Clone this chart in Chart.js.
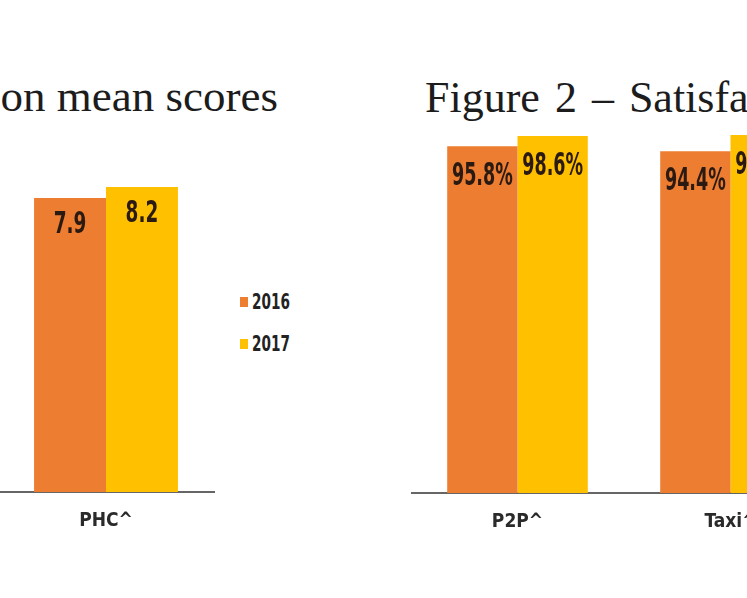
<!DOCTYPE html>
<html>
<head>
<meta charset="utf-8">
<script src="https://cdn.jsdelivr.net/npm/chart.js@4.4.1/dist/chart.umd.min.js"></script>
<style>
  html, body { margin: 0; padding: 0; background: #ffffff; width: 747px; height: 598px; overflow: hidden; position: relative; }
  canvas { position: absolute; }
  .title { position: absolute; font-family: "Liberation Serif", "Times New Roman", serif; line-height: 45px; color: #1c1c1c; white-space: nowrap; }
  .legend { position: absolute; font-family: "Liberation Sans Narrow", "Arial Narrow", "DejaVu Sans Condensed", sans-serif; font-weight: bold; font-size: 21px; color: #222; }
  .legend .item { position: absolute; left: 0; height: 24px; display: flex; align-items: center; white-space: nowrap; }
  .legend .sw { width: 8px; height: 10px; margin-right: 4px; }
  .legend .tx { display: inline-block; transform: scaleX(0.72); transform-origin: left center; }
</style>
</head>
<body>
<div class="title" id="t1" style="top:74px; right:469px; font-size:45px;"></div>
<div class="title" id="t2" style="top:75px; left:425px; font-size:44px; word-spacing:4px;"></div>
<canvas id="c1"></canvas>
<canvas id="c2"></canvas>
<div class="legend" id="legend" style="left:240px; top:0px;"></div>
<script>
// ---- data ----
const seriesNames = ['2016', '2017'];
const seriesColors = ['#ED7D31', '#FFC000'];
const fig1Title = 'Figure 1 \u2013 Satisfaction mean scores';
const fig1Categories = ['PHC^'];
const fig1Values2016 = [7.9];
const fig1Values2017 = [8.2];
const fig2Title = 'Figure 2 \u2013 Satisfaction rates';
const fig2Categories = ['P2P^', 'Taxi^'];
const fig2Values2016 = [95.8, 94.4];
const fig2Values2017 = [98.6, 98.9];

const NARROW = '"Liberation Sans Narrow", "Arial Narrow", "DejaVu Sans Condensed", sans-serif';

document.getElementById('t1').textContent = fig1Title;
document.getElementById('t2').textContent = fig2Title;

// legend
const legendEl = document.getElementById('legend');
const legendCenters = [302, 344];
seriesNames.forEach((n, i) => {
  const it = document.createElement('div');
  it.className = 'item';
  it.style.top = (legendCenters[i] - 12) + 'px';
  const sw = document.createElement('span');
  sw.className = 'sw';
  sw.style.background = seriesColors[i];
  const tx = document.createElement('span');
  tx.className = 'tx';
  tx.textContent = n;
  it.appendChild(sw); it.appendChild(tx);
  legendEl.appendChild(it);
});

const valueLabels = {
  id: 'valueLabels',
  afterDatasetsDraw(chart, args, opts) {
    const ctx = chart.ctx;
    chart.data.datasets.forEach((ds, i) => {
      const meta = chart.getDatasetMeta(i);
      meta.data.forEach((bar, j) => {
        const txt = ds.data[j].toFixed(1) + (opts.suffix || '');
        ctx.save();
        ctx.translate(bar.x, bar.y + opts.offset);
        ctx.scale(opts.scaleX, opts.scaleY);
        ctx.font = 'bold ' + opts.size + 'px ' + NARROW;
        ctx.fillStyle = opts.color;
        ctx.textAlign = 'center';
        ctx.textBaseline = 'middle';
        ctx.fillText(txt, 0, 0);
        ctx.restore();
      });
    });
  }
};

function makeChart(id, left, top, width, height, cats, v16, v17, ymax, labelOpts) {
  const cv = document.getElementById(id);
  cv.width = width; cv.height = height;
  cv.style.left = left + 'px'; cv.style.top = top + 'px';
  cv.style.width = width + 'px'; cv.style.height = height + 'px';
  return new Chart(cv, {
    type: 'bar',
    data: {
      labels: cats,
      datasets: [
        { label: seriesNames[0], data: v16, backgroundColor: seriesColors[0], borderWidth: 0 },
        { label: seriesNames[1], data: v17, backgroundColor: seriesColors[1], borderWidth: 0 }
      ]
    },
    options: {
      responsive: false,
      maintainAspectRatio: false,
      animation: false,
      devicePixelRatio: 1,
      layout: { padding: 0 },
      datasets: { bar: { categoryPercentage: 0.66, barPercentage: 1.0 } },
      plugins: {
        legend: { display: false },
        tooltip: { enabled: false },
        title: { display: false },
        valueLabels: labelOpts
      },
      scales: {
        y: { display: false, min: 0, max: ymax },
        x: {
          grid: { display: false },
          border: { display: true, color: '#666666', width: 2 },
          ticks: { color: '#2a2a2a', padding: 10, maxRotation: 0, font: { family: NARROW, size: 19, weight: 'bold' } },
          afterFit: (s) => { s.height = 40; }
        }
      }
    },
    plugins: [valueLabels]
  });
}

// Figure 1 (left, clipped): plot 0..215, baseline 492
makeChart('c1', -3, 120, 218, 372 + 40, fig1Categories, fig1Values2016, fig1Values2017, 10,
  { offset: 27, scaleX: 0.76, scaleY: 1.1, size: 27, color: '#2b1a12', suffix: '' });
// Figure 2 (right, clipped): plot starts at 411, baseline 493
makeChart('c2', 411, 131, 426, 362 + 40, fig2Categories, fig2Values2016, fig2Values2017, 100,
  { offset: 31, scaleX: 0.78, scaleY: 1.25, size: 25, color: '#2b1a12', suffix: '%' });
</script>
</body>
</html>
